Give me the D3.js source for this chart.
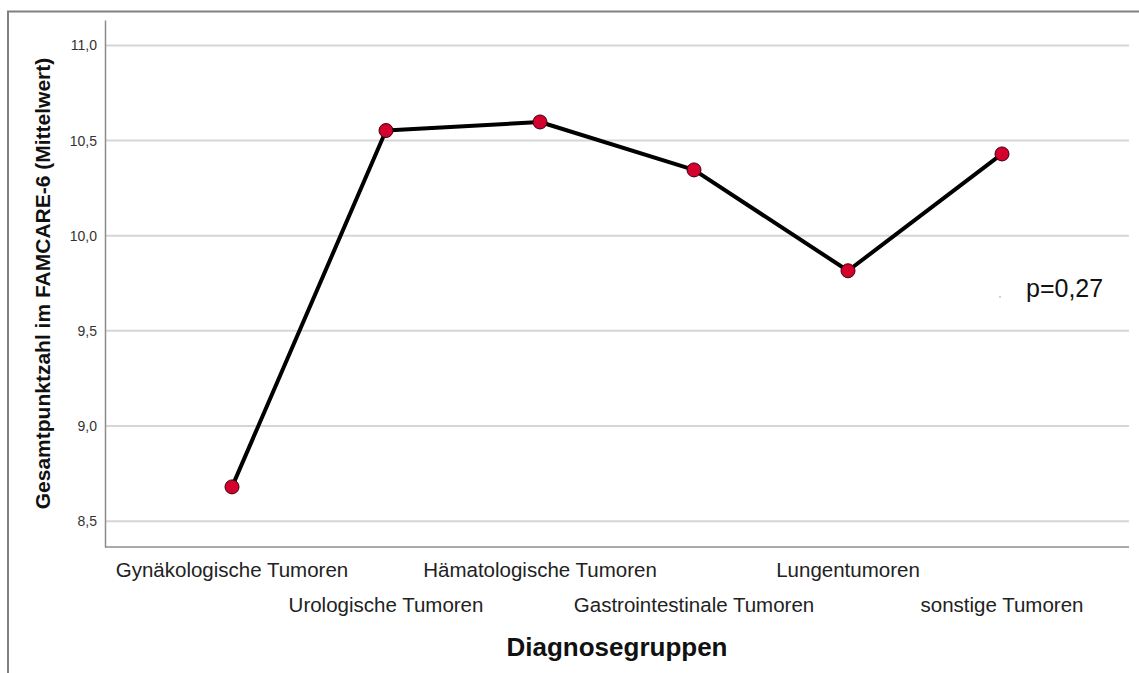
<!DOCTYPE html>
<html>
<head>
<meta charset="utf-8">
<script src="https://cdn.jsdelivr.net/npm/d3@7"></script>
<style>
  body { margin: 0; background: #fff; }
  text { font-family: "Liberation Sans", Arial, sans-serif; }
</style>
</head>
<body>
<script>
// data
var categories = ["Gynäkologische Tumoren", "Urologische Tumoren", "Hämatologische Tumoren",
                  "Gastrointestinale Tumoren", "Lungentumoren", "sonstige Tumoren"];
var means = [8.68, 10.553, 10.598, 10.346, 9.816, 10.43];
var yTicks = [8.5, 9.0, 9.5, 10.0, 10.5, 11.0];
var pLabel = "p=0,27";

var W = 1139, H = 673;
var plotLeft = 105, plotRight = 1129, plotTop = 20, plotBottom = 547;

var svg = d3.select("body").append("svg")
    .attr("width", W)
    .attr("height", H);

// outer frame (only top and left visible)
svg.append("path")
    .attr("d", "M8,700 L8,11.5 L1150,11.5")
    .attr("fill", "none")
    .attr("stroke", "#808080")
    .attr("stroke-width", 2);

// scales
var x = d3.scalePoint()
    .domain(categories)
    .range([232, 1002]);

var y = d3.scaleLinear()
    .domain([8.364, 11.134])
    .range([plotBottom, plotTop]);

// grid lines
svg.append("g")
    .selectAll("line")
    .data(yTicks)
    .enter()
    .append("line")
    .attr("x1", plotLeft)
    .attr("x2", plotRight)
    .attr("y1", function(d) { return y(d); })
    .attr("y2", function(d) { return y(d); })
    .attr("stroke", "#d6d6d6")
    .attr("stroke-width", 2);

// y axis
var yAxis = d3.axisLeft(y)
    .tickValues(yTicks)
    .tickSize(0)
    .tickPadding(8)
    .tickFormat(function(d) { return d3.format(".1f")(d).replace(".", ","); });

var gy = svg.append("g")
    .attr("transform", "translate(" + plotLeft + ",0)")
    .call(yAxis);
gy.select(".domain").attr("stroke", "#8c8c8c").attr("stroke-width", 1.5);
gy.selectAll("text")
    .attr("font-size", 14)
    .attr("fill", "#333");

// x axis line
svg.append("line")
    .attr("x1", plotLeft)
    .attr("x2", plotRight)
    .attr("y1", plotBottom)
    .attr("y2", plotBottom)
    .attr("stroke", "#8c8c8c")
    .attr("stroke-width", 1.5);

// x labels, staggered in two rows
svg.append("g")
    .selectAll("text")
    .data(categories)
    .enter()
    .append("text")
    .attr("x", function(d) { return x(d); })
    .attr("y", function(d, i) { return i % 2 === 0 ? 577 : 612; })
    .attr("text-anchor", "middle")
    .attr("font-size", 20.5)
    .attr("fill", "#222")
    .text(function(d) { return d; });

// line
var line = d3.line()
    .x(function(d, i) { return x(categories[i]); })
    .y(function(d) { return y(d); });

svg.append("path")
    .datum(means)
    .attr("d", line)
    .attr("fill", "none")
    .attr("stroke", "#000")
    .attr("stroke-width", 4)
    .attr("stroke-linejoin", "round");

// markers
svg.append("g")
    .selectAll("circle")
    .data(means)
    .enter()
    .append("circle")
    .attr("cx", function(d, i) { return x(categories[i]); })
    .attr("cy", function(d) { return y(d); })
    .attr("r", 7)
    .attr("fill", "#d4002d")
    .attr("stroke", "#3a0008")
    .attr("stroke-width", 1);

// p value note
svg.append("circle")
    .attr("cx", 1000)
    .attr("cy", 297)
    .attr("r", 0.8)
    .attr("fill", "#999");
svg.append("text")
    .attr("x", 1026)
    .attr("y", 297)
    .attr("font-size", 25)
    .attr("fill", "#111")
    .text(pLabel);

// axis titles
svg.append("text")
    .attr("x", (plotLeft + plotRight) / 2)
    .attr("y", 656)
    .attr("text-anchor", "middle")
    .attr("font-size", 26)
    .attr("font-weight", "bold")
    .attr("fill", "#111")
    .text("Diagnosegruppen");

svg.append("text")
    .attr("transform", "translate(50," + ((plotTop + plotBottom) / 2) + ") rotate(-90)")
    .attr("text-anchor", "middle")
    .attr("font-size", 21)
    .attr("font-weight", "bold")
    .attr("fill", "#111")
    .text("Gesamtpunktzahl im FAMCARE-6 (Mittelwert)");
</script>
</body>
</html>
